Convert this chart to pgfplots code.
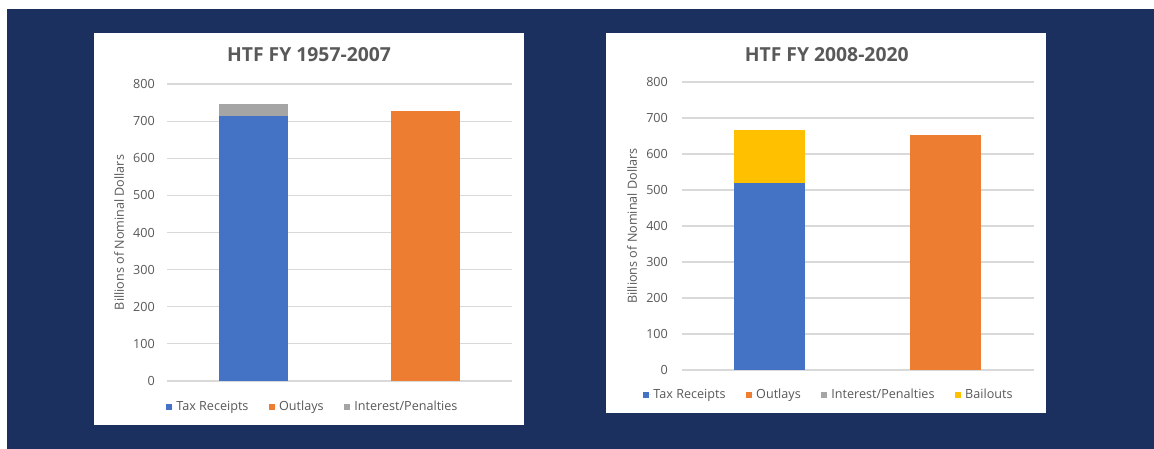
\documentclass[border=0pt]{standalone}
\usepackage{pgfplots}
\pgfplotsset{compat=1.18}
\usepackage{fontspec}
\setmainfont{Open Sans}
\definecolor{navy}{RGB}{27,48,94}
\definecolor{txt}{RGB}{89,89,89}
\definecolor{gridc}{RGB}{217,217,217}
\definecolor{cblue}{RGB}{68,114,196}
\definecolor{corange}{RGB}{237,125,49}
\definecolor{cgray}{RGB}{165,165,165}
\definecolor{cyellow}{RGB}{255,192,0}
\newcommand\lblfont{\fontsize{9.45}{11}\selectfont}
\pgfplotsset{
  htf/.style={
    scale only axis,
    anchor=south west,
    ybar stacked,
    ymin=0, ymax=800,
    ytick={0,100,...,800},
    xmin=-0.5, xmax=1.5,
    xtick=\empty,
    axis line style={draw=none},
    tick style={draw=none},
    ymajorgrids,
    grid style={gridc, line width=0.8pt},
    /pgf/number format/assume math mode=true,
    yticklabel style={font=\lblfont, text=txt, inner sep=0pt, anchor=east, xshift=-9pt},
    ylabel={Billions of Nominal Dollars},
    ylabel style={font=\lblfont, text=txt, anchor=center},
    legend columns=-1,
    legend style={draw=none, fill=none, font=\lblfont, text=txt, anchor=center,
      /tikz/every even column/.append style={column sep=13pt}},
    legend image code/.code={\fill[##1] (0pt,-2.25pt) rectangle (4.5pt,2.25pt);\path (0pt,0pt) -- (6pt,0pt);},
    every axis plot/.append style={draw=none},
  }
}
\begin{document}
\begin{tikzpicture}[x=0.75pt,y=0.75pt]
\fill[white] (0,0) rectangle (1154,449);
\fill[navy] (7,0) rectangle (1153.5,440);
\fill[white] (94,24) rectangle (524,416);
\fill[white] (606,36) rectangle (1046,416);
\node[anchor=base, font=\fontsize{14.5}{17}\selectfont\bfseries, text=txt] at (309,387) {HTF FY 1957-2007};
\node[anchor=base, font=\fontsize{14.5}{17}\selectfont\bfseries, text=txt] at (826.7,387.5) {HTF FY 2008-2020};
\begin{axis}[htf, at={(125.25pt,51pt)}, width=258.75pt, height=222.75pt, bar width=51.75pt,
  ylabel style={at={(axis description cs:-0.139,0.5)}},
  legend style={at={(0.423,-0.0875)}}]
\addplot[fill=cblue] coordinates {(0,715) (1,0)};
\addplot[fill=corange] coordinates {(0,0) (1,727)};
\addplot[fill=cgray] coordinates {(0,30) (1,0)};
\legend{Tax Receipts, Outlays, Interest/Penalties}
\end{axis}
\begin{axis}[htf, at={(511.125pt,59.25pt)}, width=264pt, height=216pt, bar width=53.25pt,
  ylabel style={at={(axis description cs:-0.1406,0.5)}},
  yticklabel style={xshift=-1pt},
  legend style={at={(0.419,-0.0868)}}]
\addplot[fill=cblue] coordinates {(0,520) (1,0)};
\addplot[fill=corange] coordinates {(0,0) (1,654)};
\addplot[fill=cgray] coordinates {(0,0) (1,0)};
\addplot[fill=cyellow] coordinates {(0,146) (1,0)};
\legend{Tax Receipts, Outlays, Interest/Penalties, Bailouts}
\end{axis}
\end{tikzpicture}
\end{document}
